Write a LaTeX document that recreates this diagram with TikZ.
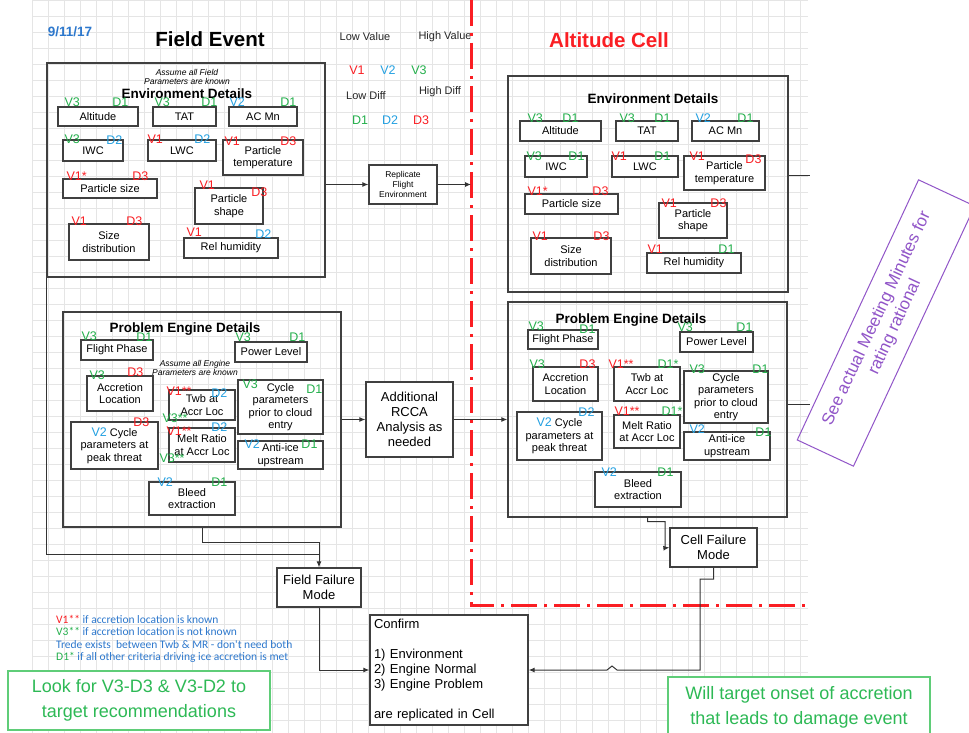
\documentclass[tikz,border=0pt]{standalone}
\usepackage{fontspec}
\setmainfont{Liberation Sans}
\newfontfamily\calfont{Carlito}
\usetikzlibrary{arrows.meta}

\definecolor{cred}{RGB}{250,30,35}
\definecolor{cblue}{RGB}{35,160,225}
\definecolor{cgreen}{RGB}{35,175,75}
\definecolor{cdate}{RGB}{45,120,205}
\definecolor{cpurple}{RGB}{145,85,200}
\definecolor{boxgreen}{RGB}{95,205,120}
\definecolor{txtgreen}{RGB}{45,185,85}
\newcommand{\setfs}[2]{\fontsize{#1}{#2}\selectfont}

\begin{document}
\begin{tikzpicture}[x=1pt,y=-1pt,
    gridline/.style={gray!20, line width=0.6pt},
    group/.style={draw=black!75, line width=1.4pt},
    item/.style={draw=black!75, line width=1.3pt, fill=white, align=center, inner sep=1pt, font=\setfs{11}{12.5}},
    tag/.style={inner sep=0pt, font=\setfs{12.5}{13}},
    vr/.style={tag, anchor=base west, text=cred},
    vb/.style={tag, anchor=base west, text=cblue},
    vg/.style={tag, anchor=base west, text=cgreen},
    dr/.style={tag, anchor=base east, text=cred},
    db/.style={tag, anchor=base east, text=cblue},
    dg/.style={tag, anchor=base east, text=cgreen},
    head/.style={font=\bfseries\setfs{13.5}{15}},
    hint/.style={font=\itshape\setfs{8.5}{9}, align=center, inner sep=0pt},
    small/.style={font=\setfs{11}{12}, text=black!85},
    conn/.style={draw=black!80, line width=1pt},
    arr/.style={-{Latex[length=6pt,width=5pt]}},
    redline/.style={cred, line width=3pt, dash pattern=on 26pt off 7pt on 3pt off 7pt},
    greenbox/.style={draw=boxgreen, line width=1.2pt, fill=white, text=txtgreen, align=center, font=\setfs{18}{25}},
    mins/.style={draw=cpurple, line width=1pt, text=cpurple, align=center, font=\setfs{17}{20}},
    notes/.style={font=\calfont\setfs{11.5}{12.4}, text=cdate, align=left, anchor=north west, inner sep=0pt}]

    % white page, fixes the size
    \fill[white] (0,0) rectangle (969,733);
    \useasboundingbox (0,0) rectangle (969,733);

    % draw a grid
    \foreach \x in {32,48,...,800}
      \draw[gridline] (\x,0) -- (\x,733);
    \foreach \y in {0,16,...,720}
      \draw[gridline] (32,\y) -- (808,\y);

    % header
    \node[font=\bfseries\setfs{13.5}{15}, text=cdate] (date) at (70,32) {9/11/17};
    \node[font=\bfseries\setfs{20.5}{24}] (field) at (210,39) {Field Event};
    \node[font=\bfseries\setfs{20.5}{24}, text=cred] (cell) at (609,40) {Altitude Cell};
    \node[small] (lowv) at (365,37) {Low Value};
    \node[small] (highv) at (445,37) {High Value};
    \node[small] (lowd) at (366,96) {Low Diff};
    \node[small] (highd) at (440,92) {High Diff};
    \foreach \t/\c/\x in {V1/cred/357, V2/cblue/388, V3/cgreen/419}
      \node[tag, text=\c] (leg\t) at (\x,70) {\t};
    \foreach \t/\c/\x in {D1/cgreen/360, D2/cblue/390, D3/cred/421}
      \node[tag, text=\c] (leg\t) at (\x,120) {\t};

    % field / cell border
    \coordinate (cutTop) at (471,0);
    \coordinate (cutCorner) at (471,605);
    \coordinate (cutEnd) at (805,605);
    \draw[redline] (cutTop) -- (cutCorner) -- (cutEnd);

    % field event: environment
    \node[group, minimum width=278, minimum height=214] (envL) at (186,170) {};
    \node[hint] (envLh) at (187,76.5) {Assume all Field\\Parameters are known};
    \node[head] (envLt) at (187,94) {Environment Details};
    \node[item, minimum width=80, minimum height=19, label={[vg,xshift=7pt]north west:V3}, label={[dg,xshift=-10pt]north east:D1}] (altL) at (98,116.5) {Altitude};
    \node[item, minimum width=63, minimum height=19, label={[vg,xshift=2pt]north west:V3}, label={[dg,xshift=1pt]north east:D1}] (tatL) at (184.5,116.5) {TAT};
    \node[item, minimum width=68, minimum height=19, label={[vb,xshift=1pt]north west:V2}, label={[dg,xshift=-1pt]north east:D1}] (acmL) at (263,116.5) {AC Mn};
    \node[item, minimum width=60, minimum height=21, label={[vg,xshift=2pt,yshift=-4pt]north west:V3}, label={[db,xshift=-1pt,yshift=-5pt]north east:D2}] (iwcL) at (93,150.5) {IWC};
    \node[item, minimum width=68, minimum height=21, label={[vr,yshift=-4pt]north west:V1}, label={[db,xshift=-6pt,yshift=-4pt]north east:D2}] (lwcL) at (182,150.5) {LWC};
    \node[item, minimum width=80, minimum height=35, label={[vr,xshift=2pt,yshift=-6pt]north west:V1}, label={[dr,xshift=-7pt,yshift=-6pt]north east:D3}] (ptL) at (263,157.5) {Particle\\temperature};
    \node[item, minimum width=94, minimum height=19, label={[vr,xshift=4pt,yshift=-2pt]north west:V1*}, label={[dr,xshift=-9pt,yshift=-2pt]north east:D3}] (psL) at (110,188.5) {Particle size};
    \node[item, minimum width=68, minimum height=36, label={[vr,xshift=5pt,yshift=-2pt]north west:V1}, label={[dr,xshift=4pt,yshift=-9pt]north east:D3}] (pshL) at (229,206) {Particle\\shape};
    \node[item, minimum width=80, minimum height=36, label={[vr,xshift=3pt,yshift=-2pt]north west:V1}, label={[dr,xshift=-7pt,yshift=-2pt]north east:D3}] (sdL) at (109,242) {Size\\distribution};
    \node[item, minimum width=94, minimum height=20, label={[vr,xshift=3pt,yshift=1pt]north west:V1}, label={[db,xshift=-7pt,yshift=-1pt]north east:D2}] (rhL) at (231,248) {Rel humidity};

    % field event: problem engine
    \node[group, minimum width=278, minimum height=215] (peL) at (202,419.5) {};
    \node[head] (peLt) at (185,329) {Problem Engine Details};
    \node[hint] (peLh) at (195,368) {Assume all Engine\\Parameters are known};
    \node[item, minimum width=72, minimum height=20, label={[vg,xshift=1pt,yshift=-1pt]north west:V3}, label={[dg,xshift=-1pt,yshift=-2pt]north east:D1}] (fpL) at (117,350) {Flight Phase};
    \node[item, minimum width=72, minimum height=20, label={[vg,xshift=1pt]north west:V3}, label={[dg,xshift=-2pt]north east:D1}] (plL) at (271,352) {Power Level};
    \node[item, minimum width=66, minimum height=35, label={[vg,xshift=3pt,yshift=-4pt]north west:V3}, label={[dr,xshift=-10pt,yshift=-1pt]north east:D3}] (alL) at (120,393.5) {Accretion\\Location};
    \node[item, minimum width=66, minimum height=30, label={[vr,xshift=-2pt,yshift=-6pt]north west:V1**}, label={[db,xshift=-8pt,yshift=-8pt]north east:D2}, label={[vg,xshift=-6pt,yshift=-2pt]south west:V3**}] (twbL) at (202,405) {Twb at\\Accr Loc};
    \node[item, minimum width=66, minimum height=34, label={[vr,xshift=-2pt,yshift=-8pt]north west:V1**}, label={[db,xshift=-8pt,yshift=-4pt]north east:D2}, label={[vg,xshift=-9pt]south west:V3**}] (mrL) at (202,445) {Melt Ratio\\at Accr Loc};
    \node[item, minimum width=85, minimum height=54, label={[vg,xshift=5pt,yshift=-9pt]north west:V3}, label={[dg,xshift=-1pt,yshift=-14pt]north east:D1}] (cpL) at (280.5,407) {Cycle\\parameters\\prior to cloud\\entry};
    \node[item, minimum width=87, minimum height=47, label={[dr,xshift=-9pt,yshift=-5pt]north east:D3}] (cpkL) at (114.5,445.5) {{\setfs{12.5}{13}\color{cblue}V2} Cycle\\parameters at\\peak threat};
    \node[item, minimum width=85, minimum height=28, label={[vb,xshift=7pt,yshift=-8pt]north west:V2}, label={[dg,xshift=-6pt,yshift=-8pt]north east:D1}] (aiL) at (280.5,455) {Anti-ice\\upstream};
    \node[item, minimum width=86, minimum height=33, label={[vb,xshift=9pt,yshift=-5pt]north west:V2}, label={[dg,xshift=-8pt,yshift=-5pt]north east:D1}] (beL) at (192,498.5) {Bleed\\extraction};

    % altitude cell: environment
    \node[group, minimum width=280, minimum height=216] (envR) at (648,184) {};
    \node[head] (envRt) at (653,99) {Environment Details};
    \node[item, minimum width=81, minimum height=20, label={[vg,xshift=8pt,yshift=-2pt]north west:V3}, label={[dg,xshift=-23pt,yshift=-2pt]north east:D1}] (altR) at (560.5,131) {Altitude};
    \node[item, minimum width=62, minimum height=20, label={[vg,xshift=4pt,yshift=-2pt]north west:V3}, label={[dg,xshift=-8pt,yshift=-2pt]north east:D1}] (tatR) at (647,131) {TAT};
    \node[item, minimum width=67, minimum height=20, label={[vb,xshift=4pt,yshift=-2pt]north west:V2}, label={[dg,xshift=-6pt,yshift=-2pt]north east:D1}] (acmR) at (725.5,131) {AC Mn};
    \node[item, minimum width=62, minimum height=21, label={[vg,xshift=2pt,yshift=-5pt]north west:V3}, label={[dg,xshift=-3pt,yshift=-5pt]north east:D1}] (iwcR) at (556,166.5) {IWC};
    \node[item, minimum width=66, minimum height=21, label={[vr,yshift=-5pt]north west:V1}, label={[dg,xshift=-8pt,yshift=-5pt]north east:D1}] (lwcR) at (645,166.5) {LWC};
    \node[item, minimum width=81, minimum height=34, label={[vr,xshift=6pt,yshift=-5pt]north west:V1}, label={[dr,xshift=-4pt,yshift=-8pt]north east:D3}] (ptR) at (724.5,173) {Particle\\temperature};
    \node[item, minimum width=93, minimum height=20, label={[vr,xshift=3pt,yshift=-2pt]north west:V1*}, label={[dr,xshift=-10pt,yshift=-2pt]north east:D3}] (psR) at (571.5,204) {Particle size};
    \node[item, minimum width=68, minimum height=35, label={[vr,xshift=3pt,yshift=-5pt]north west:V1}, label={[dr,xshift=-1pt,yshift=-5pt]north east:D3}] (pshR) at (693,220.5) {Particle\\shape};
    \node[item, minimum width=80, minimum height=36, label={[vr,xshift=2pt,yshift=-3pt]north west:V1}, label={[dr,xshift=-2pt,yshift=-3pt]north east:D3}] (sdR) at (571,256) {Size\\distribution};
    \node[item, minimum width=94, minimum height=20, label={[vr,xshift=1pt,yshift=-1pt]north west:V1}, label={[dg,xshift=-7pt,yshift=-1pt]north east:D1}] (rhR) at (694,263) {Rel humidity};

    % altitude cell: problem engine
    \node[group, minimum width=279, minimum height=215] (peR) at (647.5,409.5) {};
    \node[head] (peRt) at (631,320) {Problem Engine Details};
    \node[item, minimum width=70, minimum height=19, label={[vg,xshift=1pt,yshift=-1pt]north west:V3}, label={[dg,xshift=-3pt,yshift=-4pt]north east:D1}] (fpR) at (563,339.5) {Flight Phase};
    \node[item, minimum width=73, minimum height=20, label={[vg,xshift=-2pt]north west:V3}, label={[dg,xshift=-1pt]north east:D1}] (plR) at (716.5,342) {Power Level};
    \node[item, minimum width=65, minimum height=34, label={[vg,xshift=-3pt,yshift=-2pt]north west:V3}, label={[dr,xshift=-3pt,yshift=-2pt]north east:D3}] (alR) at (565.5,384) {Accretion\\Location};
    \node[item, minimum width=66, minimum height=34, label={[vr,xshift=-5pt,yshift=-2pt]north west:V1**}, label={[dg,xshift=-2pt,yshift=-2pt]north east:D1*}] (twbR) at (647,384) {Twb at\\Accr Loc};
    \node[item, minimum width=84, minimum height=52, label={[vg,xshift=6pt,yshift=-3pt]north west:V3}, label={[dg,yshift=-3pt]north east:D1}] (cpR) at (726,397) {Cycle\\parameters\\prior to cloud\\entry};
    \node[item, minimum width=85, minimum height=48, label={[db,xshift=-8pt,yshift=-5pt]north east:D2}] (cpkR) at (559.5,436) {{\setfs{12.5}{13}\color{cblue}V2} Cycle\\parameters at\\peak threat};
    \node[item, minimum width=66, minimum height=33, label={[vr,xshift=1pt,yshift=-1pt]north west:V1**}, label={[dg,xshift=2pt,yshift=-1pt]north east:D1*}] (mrR) at (647,431.5) {Melt Ratio\\at Accr Loc};
    \node[item, minimum width=86, minimum height=28, label={[vb,xshift=6pt,yshift=-2pt]north west:V2}, label={[dg,xshift=1pt,yshift=-5pt]north east:D1}] (aiR) at (727,446) {Anti-ice\\upstream};
    \node[item, minimum width=86, minimum height=35, label={[vb,xshift=7pt,yshift=-5pt]north west:V2}, label={[dg,xshift=-8pt,yshift=-5pt]north east:D1}] (beR) at (638,489.5) {Bleed\\extraction};

    % steps between field and cell
    \node[item, minimum width=68, minimum height=39, font=\setfs{8.5}{10}] (rep) at (403,184.5) {Replicate\\Flight\\Environment};
    \node[item, minimum width=87, minimum height=75, font=\setfs{13}{15}] (rcca) at (409.5,419.5) {Additional\\RCCA\\Analysis as\\needed};
    \node[item, minimum width=84, minimum height=39, font=\setfs{13}{14.5}] (ffm) at (319,587.5) {Field Failure\\Mode};
    \node[item, minimum width=87, minimum height=39, font=\setfs{13}{14.5}] (cfm) at (713.5,547.5) {Cell Failure\\Mode};
    \node[item, minimum width=158, minimum height=110, text width=150, align=left, inner sep=3pt, font=\setfs{13}{15}] (conf) at (449,670) {Confirm\\[15pt]1) Environment\\2) Engine Normal\\3) Engine Problem\\[15pt]are replicated in Cell};

    % connectors
    \draw[conn,arr] (envL.east |- rep.west) -- (rep.west);
    \draw[conn,arr] (rep.east) -- (rep.east -| cutTop);
    \draw[conn,arr] (peL.east) -- (rcca.west);
    \draw[conn,arr] (rcca.east) -- (rcca.east -| peR.west);
    \coordinate (ffmJ) at (319,554);
    \draw[conn,arr] (envL.south west) |- (ffmJ) -- (ffm.north);
    \draw[conn] (peL.south) -- ++(0,15) -| (ffmJ);
    \draw[conn,arr] (ffm.south) |- (conf.west);
    \coordinate (cfmIn) at (665,548);
    \draw[conn,arr] (peR.south) -- ++(0,4) -| (cfmIn) -- (cfm.west);
    \coordinate (cfmJ) at (700,579);
    \coordinate (hop) at (612,670);
    \draw[conn,arr] (cfm.south) |- (cfmJ) -- (cfmJ |- conf.east) -- ([xshift=5pt]hop) -- ([yshift=4pt]hop) -- ([xshift=-5pt]hop) -- (conf.east);
    \coordinate (outA) at (810,175);
    \coordinate (outB) at (810,404);
    \draw[conn] (outA -| envR.east) -- (outA);
    \draw[conn] (outB -| peR.east) -- (outB);

    % notes
    \node[notes] (keys) at (56,615) {{\color{cred}V1**} if accretion location is known\\
      {\color{cgreen}V3**} if accretion location is not known\\
      Trede exists\ \ between Twb \& MR - don't need both\\
      {\color{cgreen}D1*} if all other criteria driving ice accretion is met};
    \node[greenbox, minimum width=262, minimum height=59] (look) at (139,700.5) {Look for V3-D3 \& V3-D2 to\\target recommendations};
    \node[greenbox, minimum width=262, minimum height=60] (will) at (799,707) {Will target onset of accretion\\that leads to damage event};
    \node[mins, rotate=65, minimum width=287, minimum height=62] (minutes) at (886,323) {See actual Meeting Minutes for\\rating rational};

\end{tikzpicture}
\end{document}
